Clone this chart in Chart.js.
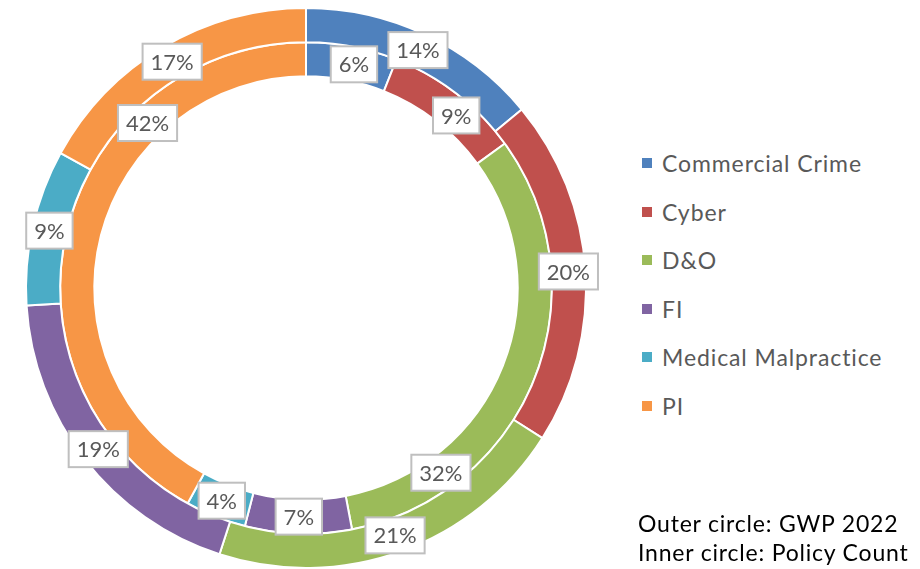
<!DOCTYPE html>
<html>
<head>
<meta charset="utf-8">
<script src="https://cdn.jsdelivr.net/npm/chart.js@4/dist/chart.umd.min.js"></script>
<style>
  html, body { margin: 0; padding: 0; background: #fff; }
  body { width: 920px; height: 569px; position: relative; overflow: hidden; font-family: Lato, "Open Sans", sans-serif; }
  #wrap { position: absolute; left: 0; top: 0; width: 640px; height: 569px; }
  #legend { position: absolute; left: 642px; top: 139px; }
  .row { height: 48.5px; display: flex; align-items: center; color: #595959; font-size: 23px; letter-spacing: 0.9px; white-space: nowrap; }
  .sw { width: 10px; height: 10px; margin-right: 10px; flex: none; }
  #note { position: absolute; left: 638px; top: 509px; font-size: 23px; letter-spacing: 0.8px; color: #000; line-height: 29px; white-space: nowrap; }
</style>
</head>
<body>
<div id="wrap"><canvas id="c" width="640" height="569"></canvas></div>
<div id="legend"></div>
<div id="note"></div>
<script>
const categories = ['Commercial Crime', 'Cyber', 'D&O', 'FI', 'Medical Malpractice', 'PI'];
const gwp2022 = [14, 20, 21, 19, 9, 17];        // outer circle (%)
const policyCount = [6, 9, 32, 7, 4, 42];       // inner circle (%)
const seriesNames = ['Outer circle: GWP 2022', 'Inner circle: Policy Count'];
const colors = ['#4F81BD', '#C0504D', '#9BBB59', '#8064A2', '#4BACC6', '#F79646'];
// where along each slice the data label sits (fraction of slice angle)
const labelAlongOuter = [0.5, 0.5, 0.5, 0.5, 0.5, 0.5];
const labelAlongInner = [0.56, 0.6, 0.78, 0.5, 0.5, 0.71];

// legend
const legend = document.getElementById('legend');
categories.forEach((c, i) => {
  const row = document.createElement('div');
  row.className = 'row';
  const sw = document.createElement('span');
  sw.className = 'sw';
  sw.style.background = colors[i];
  const tx = document.createElement('span');
  tx.textContent = c;
  row.appendChild(sw); row.appendChild(tx);
  legend.appendChild(row);
});
const note = document.getElementById('note');
seriesNames.forEach(s => { const d = document.createElement('div'); d.textContent = s; note.appendChild(d); });

const boxLabels = {
  id: 'boxLabels',
  afterDatasetsDraw(chart) {
    const ctx = chart.ctx;
    ctx.save();
    ctx.font = '22px Lato, "Open Sans", sans-serif';
    ctx.textAlign = 'center';
    ctx.textBaseline = 'middle';
    chart.data.datasets.forEach((ds, di) => {
      const meta = chart.getDatasetMeta(di);
      const along = di === 0 ? labelAlongOuter : labelAlongInner;
      meta.data.forEach((arc, i) => {
        const p = arc.getProps(['x', 'y', 'startAngle', 'endAngle', 'innerRadius', 'outerRadius'], true);
        const a = p.startAngle + (p.endAngle - p.startAngle) * along[i];
        const r = (p.innerRadius + p.outerRadius) / 2;
        const cx = p.x + Math.cos(a) * r;
        const cy = p.y + Math.sin(a) * r;
        const txt = ds.data[i] + '%';
        const w = ctx.measureText(txt).width + 16;
        const h = 36;
        ctx.fillStyle = '#ffffff';
        ctx.fillRect(cx - w / 2, cy - h / 2, w, h);
        ctx.strokeStyle = '#BFBFBF';
        ctx.lineWidth = 2;
        ctx.strokeRect(cx - w / 2, cy - h / 2, w, h);
        ctx.fillStyle = '#595959';
        ctx.fillText(txt, cx, cy + 1);
      });
    });
    ctx.restore();
  }
};

new Chart(document.getElementById('c'), {
  type: 'doughnut',
  data: {
    labels: categories,
    datasets: [
      { label: seriesNames[0], data: gwp2022, backgroundColor: colors, borderColor: '#ffffff', borderWidth: 2 },
      { label: seriesNames[1], data: policyCount, backgroundColor: colors, borderColor: '#ffffff', borderWidth: 2 }
    ]
  },
  options: {
    responsive: false,
    animation: false,
    cutout: '75.6%',
    layout: { padding: { left: 25, top: 7, right: 53, bottom: 0 } },
    plugins: { legend: { display: false }, tooltip: { enabled: false } }
  },
  plugins: [boxLabels]
});
</script>
</body>
</html>
